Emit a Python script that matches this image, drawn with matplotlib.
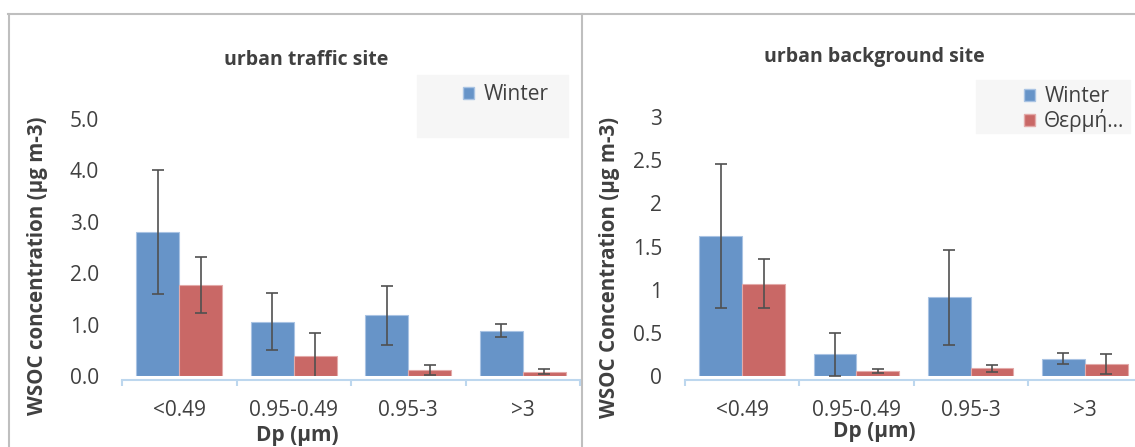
import numpy as np
import matplotlib
matplotlib.use("Agg")
import matplotlib.pyplot as plt
from matplotlib.patches import Rectangle, Patch
from matplotlib.lines import Line2D

plt.rcParams['font.family'] = ['Open Sans', 'DejaVu Sans']

# data
categories = ['<0.49', '0.95-0.49', '0.95-3', '>3']
series_names = ['Winter', 'Θερμή...']

traffic_winter = [2.80, 1.06, 1.18, 0.88]
traffic_winter_err = [1.20, 0.56, 0.57, 0.13]
traffic_heat = [1.77, 0.38, 0.11, 0.08]
traffic_heat_err = [0.54, 0.45, 0.10, 0.05]

background_winter = [1.62, 0.25, 0.91, 0.20]
background_winter_err = [0.83, 0.25, 0.55, 0.065]
background_heat = [1.07, 0.06, 0.09, 0.14]
background_heat_err = [0.28, 0.025, 0.04, 0.12]

traffic_yticks = [0.0, 1.0, 2.0, 3.0, 4.0, 5.0]
background_yticks = [0, 0.5, 1, 1.5, 2, 2.5, 3]

BLUE = '#6794c8'
RED = '#c96866'
TXT = '#404040'
AXLINE = '#bdd7ee'

W, H = 1135, 447
fig = plt.figure(figsize=(W / 100, H / 100), dpi=100)


def px_rect(x0, x1, ytop, ybot):
    # pixel box -> figure fraction [left, bottom, width, height]
    return [x0 / W, 1 - ybot / H, (x1 - x0) / W, (ybot - ytop) / H]


def draw_panel(rect, winter, winter_err, heat, heat_err, yticks, fmt):
    ax = fig.add_axes(rect)
    ax.patch.set_visible(False)
    x = np.arange(len(categories))
    bw = 0.375
    ekw = dict(ecolor='#505050', elinewidth=1.2, capsize=4.5, capthick=1.2)
    ax.bar(x - bw / 2, winter, bw, yerr=winter_err, color=BLUE,
           edgecolor='#a9c3e3', linewidth=0.8, error_kw=ekw, zorder=2)
    ax.bar(x + bw / 2, heat, bw, yerr=heat_err, color=RED,
           edgecolor='#e3aaa9', linewidth=0.8, error_kw=ekw, zorder=2)
    ax.set_xlim(-0.5, len(categories) - 0.5)
    ax.set_ylim(0, yticks[-1])
    ax.set_yticks(yticks)
    ax.set_yticklabels([fmt.format(v) for v in yticks])
    ax.set_xticks(x)
    ax.set_xticklabels(categories)
    ax.set_xticks(np.arange(len(categories) + 1) - 0.5, minor=True)
    ax.tick_params(axis='x', which='major', length=0, pad=14.5,
                   labelsize=15, labelcolor=TXT)
    ax.tick_params(axis='x', which='minor', length=4, color=AXLINE, width=1.5)
    ax.tick_params(axis='y', length=0, pad=16.5, labelsize=15, labelcolor=TXT)
    for s in ['top', 'right', 'left']:
        ax.spines[s].set_visible(False)
    ax.spines['bottom'].set_color(AXLINE)
    ax.spines['bottom'].set_linewidth(1.5)
    ax.spines['bottom'].set_position(('outward', 3))
    return ax


ax1 = draw_panel(px_rect(122, 580, 119, 376), traffic_winter, traffic_winter_err,
                 traffic_heat, traffic_heat_err, traffic_yticks, '{:.1f}')
ax2 = draw_panel(px_rect(685, 1142, 117, 376), background_winter, background_winter_err,
                 background_heat, background_heat_err, background_yticks, '{:g}')

# chart borders
border = '#bfbfbf'
fig.add_artist(Line2D([8 / W, 1], [1 - 13.5 / H] * 2, color=border, lw=1.5))
fig.add_artist(Line2D([9 / W] * 2, [0, 1 - 13.5 / H], color=border, lw=1.5))
fig.add_artist(Line2D([581.5 / W] * 2, [0, 1 - 13.5 / H], color=border, lw=1.5))

# titles and axis labels
fig.text(306 / W, 1 - 60 / H, 'urban traffic site', ha='center', va='center',
         fontsize=14, fontweight='bold', color=TXT)
fig.text(874 / W, 1 - 57 / H, 'urban background site', ha='center', va='center',
         fontsize=14, fontweight='bold', color=TXT)
fig.text(38 / W, 1 - 266 / H, 'WSOC concentration (µg m-3)', rotation=90,
         ha='center', va='center', fontsize=14.8, fontweight='bold', color=TXT)
fig.text(610 / W, 1 - 267 / H, 'WSOC Concentration (µg m-3)', rotation=90,
         ha='center', va='center', fontsize=14.8, fontweight='bold', color=TXT)
fig.text(297 / W, 1 - 436 / H, 'Dp (µm)', ha='center', va='center',
         fontsize=15, fontweight='bold', color=TXT)
fig.text(874 / W, 1 - 432 / H, 'Dp (µm)', ha='center', va='center',
         fontsize=15, fontweight='bold', color=TXT)

# legends on light grey boxes
fig.add_artist(Rectangle((417 / W, 1 - 137 / H), 151 / W, 62 / H,
                         transform=fig.transFigure, color='#f6f6f6', zorder=0))
fig.add_artist(Rectangle((976 / W, 1 - 133 / H), 154 / W, 53 / H,
                         transform=fig.transFigure, color='#f6f6f6', zorder=0))

h_blue = Patch(facecolor=BLUE, edgecolor='#a9c3e3')
h_red = Patch(facecolor=RED, edgecolor='#e3aaa9')
leg_kw = dict(frameon=False, fontsize=15, handlelength=0.5, handleheight=0.5,
              handletextpad=0.45, labelspacing=0.1, borderpad=0, labelcolor=TXT)
fig.legend([h_blue], series_names[:1], loc='upper left',
           bbox_to_anchor=(453 / W, 1 - 74 / H), **leg_kw)
fig.legend([h_blue, h_red], series_names, loc='upper left',
           bbox_to_anchor=(1014 / W, 1 - 76 / H), **leg_kw)

fig.savefig('out.png', dpi=100)
